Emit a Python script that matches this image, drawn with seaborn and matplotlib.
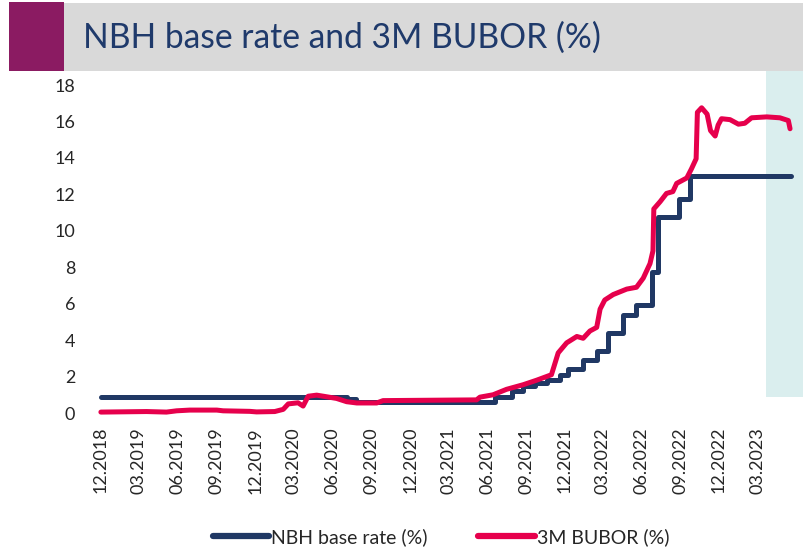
import matplotlib
matplotlib.use("Agg")
import matplotlib.pyplot as plt
import matplotlib.dates as mdates
from matplotlib.patches import Rectangle
from matplotlib.lines import Line2D
import seaborn as sns
import pandas as pd

# ---------------- data ----------------
base_dates = ["2018-12-01", "2020-07-05", "2020-07-26", "2021-06-19", "2021-07-29",
              "2021-08-25", "2021-09-22", "2021-10-20", "2021-11-20", "2021-12-10",
              "2022-01-14", "2022-02-15", "2022-03-14", "2022-04-19", "2022-05-20",
              "2022-06-25", "2022-07-10", "2022-08-28", "2022-09-23", "2023-05-20"]
base_rate = [0.9, 0.75, 0.6, 0.9, 1.2,
             1.5, 1.65, 1.8, 2.1, 2.4,
             2.9, 3.4, 4.4, 5.4, 5.9,
             7.75, 10.75, 11.75, 13.0, 13.0]

bubor_dates = ["2018-12-01", "2019-03-19", "2019-05-05", "2019-05-29", "2019-06-29",
               "2019-09-01", "2019-09-16", "2019-11-18", "2019-12-04", "2020-01-16",
               "2020-02-05", "2020-02-17", "2020-03-11", "2020-03-23", "2020-04-04",
               "2020-04-24", "2020-05-10", "2020-06-10", "2020-07-04", "2020-07-28",
               "2020-09-13", "2020-09-28", "2021-05-07", "2021-05-15", "2021-06-15",
               "2021-07-17", "2021-08-25", "2021-09-26", "2021-10-31", "2021-11-16",
               "2021-12-06", "2021-12-30", "2022-01-14", "2022-01-30", "2022-02-15",
               "2022-02-23", "2022-03-06", "2022-03-26", "2022-04-27", "2022-05-20",
               "2022-06-05", "2022-06-21", "2022-06-28", "2022-06-30", "2022-07-15",
               "2022-07-30", "2022-08-14", "2022-08-23", "2022-09-16", "2022-09-27",
               "2022-10-08", "2022-10-11", "2022-10-21", "2022-11-03", "2022-11-11",
               "2022-11-22", "2022-11-29", "2022-12-07", "2022-12-27", "2023-01-16",
               "2023-01-31", "2023-02-16", "2023-03-24", "2023-04-24", "2023-05-14",
               "2023-05-18"]
bubor = [0.05, 0.08, 0.05, 0.12, 0.16,
         0.16, 0.12, 0.09, 0.06, 0.08,
         0.2, 0.5, 0.56, 0.38, 0.92,
         0.98, 0.92, 0.8, 0.62, 0.55,
         0.55, 0.68, 0.72, 0.87, 1.0,
         1.3, 1.55, 1.8, 2.1, 3.3,
         3.85, 4.2, 4.1, 4.5, 4.7,
         5.7, 6.2, 6.5, 6.8, 6.9,
         7.4, 8.2, 8.9, 11.2, 11.6,
         12.05, 12.15, 12.6, 12.9, 13.4,
         13.95, 16.5, 16.75, 16.4, 15.5,
         15.2, 15.8, 16.15, 16.1, 15.85,
         15.9, 16.2, 16.25, 16.2, 16.05,
         15.6]

forecast_start = "2023-03-22"
forecast_ylow = 0.88
forecast_yhigh = 18.93

title = "NBH base rate and 3M BUBOR (%)"
label_base = "NBH base rate (%)"
label_bubor = "3M BUBOR (%)"
yticks = [0, 2, 4, 6, 8, 10, 12, 14, 16, 18]
xtick_dates = ["2018-12-01", "2019-03-01", "2019-06-01", "2019-09-01", "2019-12-01",
               "2020-03-01", "2020-06-01", "2020-09-01", "2020-12-01", "2021-03-01",
               "2021-06-01", "2021-09-01", "2021-12-01", "2022-03-01", "2022-06-01",
               "2022-09-01", "2022-12-01", "2023-03-01"]

# ---------------- style ----------------
BLUE = "#203864"
RED = "#E6004C"
PURPLE = "#8B1B62"
GREY = "#D9D9D9"
TEAL = "#DAEEEE"
TITLE_C = "#1F3A6B"
TEXT_C = "#262626"

sns.set_theme(style="white")
plt.rcParams["font.family"] = ["Lato", "DejaVu Sans"]

df_base = pd.DataFrame({"date": pd.to_datetime(base_dates), "value": base_rate})
df_bubor = pd.DataFrame({"date": pd.to_datetime(bubor_dates), "value": bubor})

fig = plt.figure(figsize=(8.04, 5.53), dpi=100)
ax = fig.add_axes([92 / 804, 1 - 413 / 553, 712 / 804, 328 / 553])

# title banner
fig.patches.append(Rectangle((9 / 804, 1 - 71 / 553), 795 / 804, 68 / 553,
                             transform=fig.transFigure, facecolor=GREY,
                             edgecolor="none", zorder=0))
fig.patches.append(Rectangle((9 / 804, 1 - 71 / 553), 55 / 804, 69 / 553,
                             transform=fig.transFigure, facecolor=PURPLE,
                             edgecolor="none", zorder=1))
fig.text(83 / 804, 1 - 38 / 553, title, fontsize=24.2, color=TITLE_C,
         va="center", ha="left", family=["Lato", "DejaVu Sans"])

# forecast shading
xs = mdates.date2num(pd.Timestamp(forecast_start))
x_end = mdates.date2num(pd.Timestamp("2023-06-20"))
ax.add_patch(Rectangle((xs, forecast_ylow), x_end - xs, forecast_yhigh - forecast_ylow,
                       facecolor=TEAL, edgecolor="none", clip_on=False, zorder=0))

sns.lineplot(data=df_base, x="date", y="value", ax=ax, color=BLUE, linewidth=3.6,
             drawstyle="steps-post", estimator=None, sort=False, legend=False,
             zorder=3)
sns.lineplot(data=df_bubor, x="date", y="value", ax=ax, color=RED, linewidth=3.6,
             estimator=None, sort=False, legend=False, zorder=4)
for ln in ax.lines:
    ln.set_clip_on(False)
    ln.set_solid_capstyle("round")
    ln.set_solid_joinstyle("round")

ax.set_xlim(pd.Timestamp("2018-11-10"), pd.Timestamp("2023-06-20"))
ax.set_ylim(0, 18)
ax.set_yticks(yticks)
ax.set_yticklabels([str(t) for t in yticks])
ax.set_xticks(pd.to_datetime(xtick_dates))
ax.xaxis.set_major_formatter(mdates.DateFormatter("%m.%Y"))
ax.set_xlabel("")
ax.set_ylabel("")
ax.tick_params(axis="y", length=0, pad=12, labelsize=13, labelcolor=TEXT_C)
ax.tick_params(axis="x", length=0, pad=10, labelsize=13, labelcolor=TEXT_C,
               labelrotation=90)
for lab in ax.get_xticklabels():
    lab.set_ha("center")
for s in ax.spines.values():
    s.set_visible(False)
ax.set_facecolor("none")
ax.grid(False)

handles = [Line2D([], [], color=BLUE, linewidth=4.5, solid_capstyle="round"),
           Line2D([], [], color=RED, linewidth=4.5, solid_capstyle="round")]
fig.legend(handles, [label_base, label_bubor], loc="center",
           bbox_to_anchor=(441 / 804, 1 - 537 / 553), ncol=2, frameon=False,
           fontsize=14, handlelength=2.9, handletextpad=0.1, columnspacing=2.6,
           labelcolor=TEXT_C)

fig.savefig("out.png", dpi=100)
